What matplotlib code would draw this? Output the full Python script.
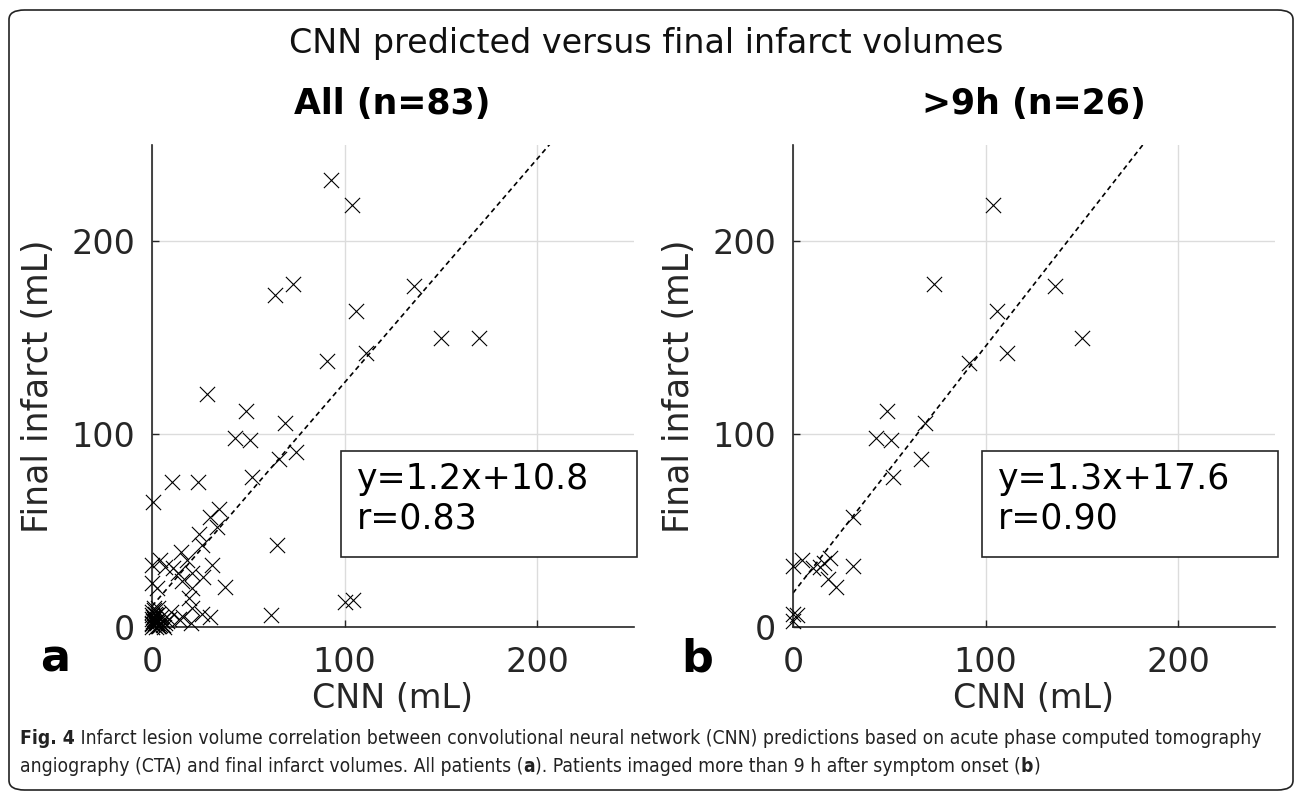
import matplotlib
matplotlib.use("Agg")
import matplotlib.pyplot as plt
from matplotlib.patches import FancyBboxPatch, Rectangle
from matplotlib import font_manager
import numpy as np

# ---------------- data ----------------
# All patients (n=83): CNN predicted (x) vs final infarct (y), mL
all_cnn = [93, 104, 64, 73, 136, 106, 150, 170, 91, 111,
           28.6, 49, 69, 43, 51, 75, 66, 52, 10.4, 24,
           0.5, 35, 30, 34, 24.5, 26, 65, 15, 100, 104.5,
           62, 4, 0, 7, 11, 13.5, 15.5, 21, 26.5, 21,
           0, 2.6, 19, 21, 26, 30, 10, 16, 20, 31,
           38, 18, 14, 9,
           0, 1, 2, 0.5, 1.5, 3, 0, 4, 2, 1,
           5, 0, 3, 6, 1, 2.5, 0, 4.5, 1, 3.5,
           0, 2, 7, 0.5, 1.5, 5.5, 3, 8, 0]
all_final = [232, 219, 172, 178, 177, 164, 150, 150, 138, 142,
             121, 112, 106, 98, 97, 91, 87, 78, 75, 75,
             65, 61, 57, 52, 48, 42.5, 42.5, 39, 13, 14,
             6, 35, 32, 31, 30.5, 28, 24, 28, 26, 20,
             23, 20, 15, 10, 7, 5, 8, 5, 2, 32,
             21, 35, 4, 4,
             0, 1, 3, 5, 2, 0.5, 8, 1, 6, 10,
             3, 4, 7, 0, 4, 2, 1.5, 5, 9, 0.5,
             6, 0, 2, 3, 7, 1, 10, 3, 2]

# Patients imaged > 9 h (n=26)
late_cnn = [104, 73, 136, 106, 150, 111, 91.5, 49, 68.5, 43,
            51, 66.5, 52, 31, 0, 4.7, 10.4, 14, 19, 18,
            22.4, 31, 0, 2, 0, 16]
late_final = [219, 178, 177, 164, 150, 142, 137, 112, 106, 98,
              97, 87, 78, 57, 31.6, 35, 30.5, 31, 35.6, 25,
              21, 31.6, 7, 6, 3, 33]

panel_titles = ["All (n=83)", ">9h (n=26)"]
fit_slopes = [1.16, 1.28]
fit_intercepts = [10.8, 17.6]
fit_labels = ["y=1.2x+10.8\nr=0.83", "y=1.3x+17.6\nr=0.90"]
panel_letters = ["a", "b"]
ticks = [0, 100, 200]

# ---------------- figure ----------------
W, H = 1295, 795
fig = plt.figure(figsize=(W / 100, H / 100), dpi=100)
fig.patch.set_facecolor("white")

def fx(px):
    return px / W

def fy(py):
    return 1 - py / H

# rounded outer frame
frame = FancyBboxPatch((fx(9), fy(790)), fx(1293) - fx(9), fy(10) - fy(790),
                       boxstyle="round,pad=0,rounding_size=0.012",
                       transform=fig.transFigure, fill=False,
                       edgecolor="#222222", linewidth=1.2)
fig.patches.append(frame)

fig.text(fx(646), fy(44), "CNN predicted versus final infarct volumes",
         ha="center", va="center", fontsize=24, color="#111111",
         family="DejaVu Sans")

axes_left_px = [152, 793]
ax_w = 481.5
ax_top, ax_bot = 145, 627
datasets = [(all_cnn, all_final), (late_cnn, late_final)]

for i, (xs, ys) in enumerate(datasets):
    l = axes_left_px[i]
    ax = fig.add_axes([fx(l), fy(ax_bot), ax_w / W, (ax_bot - ax_top) / H])
    ax.set_xlim(0, 250)
    ax.set_ylim(0, 250)
    ax.grid(True, color="#dcdcdc", linewidth=1.0)
    ax.set_axisbelow(True)
    for s in ["top", "right"]:
        ax.spines[s].set_visible(False)
    for s in ["left", "bottom"]:
        ax.spines[s].set_color("#262626")
        ax.spines[s].set_linewidth(1.2)
    ax.set_xticks(ticks)
    ax.set_yticks(ticks)
    ax.tick_params(direction="in", length=5, width=1.0, colors="#262626",
                   labelsize=24, labelcolor="#262626")
    ax.tick_params(axis="x", pad=14)
    ax.tick_params(axis="y", pad=12)
    ax.scatter(xs, ys, marker="x", s=120, c="black", linewidths=0.8,
               clip_on=False, zorder=3)
    xl = np.array([0, 250])
    ax.plot(xl, fit_slopes[i] * xl + fit_intercepts[i],
            linestyle=(0, (3, 2.2)), color="black", linewidth=1.2, zorder=2)
    ax.set_title(panel_titles[i], fontsize=25, fontweight="bold", pad=22,
                 color="black")
    ax.set_xlabel("CNN (mL)", fontsize=24, color="#262626", labelpad=2)
    ax.set_ylabel("Final infarct (mL)", fontsize=25, color="#262626",
                  labelpad=12)

    # annotation box
    bx0 = l + 189
    fig.patches.append(Rectangle((fx(bx0), fy(557)), 296 / W, (557 - 451) / H,
                                 transform=fig.transFigure, fill=True,
                                 facecolor="white", edgecolor="#262626",
                                 linewidth=1.2, zorder=5))
    fig.text(fx(bx0 + 16), fy(499), fit_labels[i], ha="left", va="center",
             fontsize=25, color="black", linespacing=1.2, zorder=6)

    # panel letter
    fig.text(fx(l - 112), fy(659), panel_letters[i], ha="left",
             va="center", fontsize=32, fontweight="bold", color="black")

# ---------------- caption ----------------
def pick_caption_font():
    for fam, st in [("Liberation Sans Narrow", "normal"),
                    ("DejaVu Sans", "condensed")]:
        try:
            p = font_manager.FontProperties(family=fam, stretch=st)
            f = font_manager.findfont(p, fallback_to_default=False)
            if fam.split()[0].lower() in f.lower():
                return fam, st
        except Exception:
            pass
    return "DejaVu Sans", "normal"

cap_fam, cap_st = pick_caption_font()
renderer = fig.canvas.get_renderer()

cap_lines = [
    [("Fig. 4", "bold"),
     (" Infarct lesion volume correlation between convolutional neural network (CNN) predictions based on acute phase computed tomography", "normal")],
    [("angiography (CTA) and final infarct volumes. All patients (", "normal"),
     ("a", "bold"), ("). Patients imaged more than 9 h after symptom onset (", "normal"),
     ("b", "bold"), (")", "normal")],
]

def draw_line(segs, x0, y, size, draw=True):
    x = x0
    texts = []
    for s, w in segs:
        t = fig.text(x / W, fy(y), s, ha="left", va="center", fontsize=size,
                     family=cap_fam, fontstretch=cap_st, fontweight=w,
                     color="#222222")
        bb = t.get_window_extent(renderer=renderer)
        x += bb.width
        texts.append(t)
    if not draw:
        for t in texts:
            t.remove()
    return x - x0

# fit caption font size so first line spans ~1248 px
size = 14
wid = draw_line(cap_lines[0], 20, 738, size, draw=False)
size = size * 1248 / wid
draw_line(cap_lines[0], 20, 738, size)
draw_line(cap_lines[1], 20, 766, size)

fig.savefig("out.png", dpi=100)
